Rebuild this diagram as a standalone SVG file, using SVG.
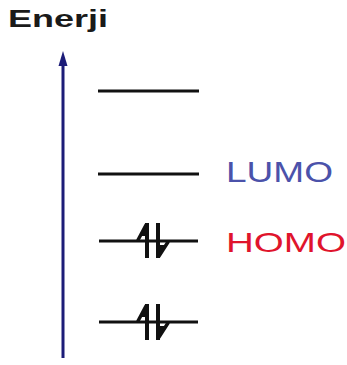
<svg xmlns="http://www.w3.org/2000/svg" width="347" height="365" viewBox="0 0 347 365">
<style>
.lvl{stroke:#111;stroke-width:3;fill:none}
.e{stroke:#111;stroke-width:4;fill:none}
.barb{stroke:#111;stroke-width:3.5;fill:none;stroke-linecap:round}
.wedge{fill:#111;stroke:none}
.lbl{font-family:"Liberation Sans",Arial,sans-serif;font-weight:normal}
</style>
<rect width="347" height="365" fill="#fff"/>
<text x="8" y="27" font-family="Liberation Sans,Arial,sans-serif" font-weight="bold" font-size="23" textLength="100" lengthAdjust="spacingAndGlyphs" fill="#1a1a1a">Enerji</text>
<g id="connectors">
<line x1="63" y1="358" x2="63" y2="62" stroke="#1c1c78" stroke-width="3"/>
<path d="M63,51 L67.5,66 L58.5,66 Z" fill="#1c1c78"/>
</g>
<g id="level4"><line class="lvl" x1="98" y1="91" x2="199" y2="91"/></g>
<g id="lumo">
<line class="lvl" x1="98" y1="174" x2="199" y2="174"/>
<text class="lbl" x="226" y="182" font-size="30" fill="#4b52aa" textLength="107" lengthAdjust="spacingAndGlyphs">LUMO</text>
</g>
<g id="homo">
<line class="lvl" x1="99" y1="241" x2="198" y2="241"/>
<line class="e" x1="147" y1="223" x2="147" y2="258"/>
<line class="barb" x1="146" y1="225" x2="138" y2="240"/>
<path class="wedge" d="M147,225 L147,236 L141,236 Z"/>
<line class="e" x1="158" y1="223" x2="158" y2="258"/>
<line class="barb" x1="159" y1="256" x2="168" y2="242"/>
<path class="wedge" d="M158,256 L158,245 L165,245 Z"/>
<text class="lbl" x="226" y="252" font-size="28" fill="#e0142c" textLength="120" lengthAdjust="spacingAndGlyphs">HOMO</text>
</g>
<g id="level1">
<line class="lvl" x1="99" y1="322" x2="198" y2="322"/>
<line class="e" x1="147" y1="304" x2="147" y2="340"/>
<line class="barb" x1="146" y1="306" x2="138" y2="321"/>
<path class="wedge" d="M147,306 L147,317 L141,317 Z"/>
<line class="e" x1="158" y1="304" x2="158" y2="340"/>
<line class="barb" x1="159" y1="337" x2="168" y2="323"/>
<path class="wedge" d="M158,337 L158,326 L165,326 Z"/>
</g>
</svg>
